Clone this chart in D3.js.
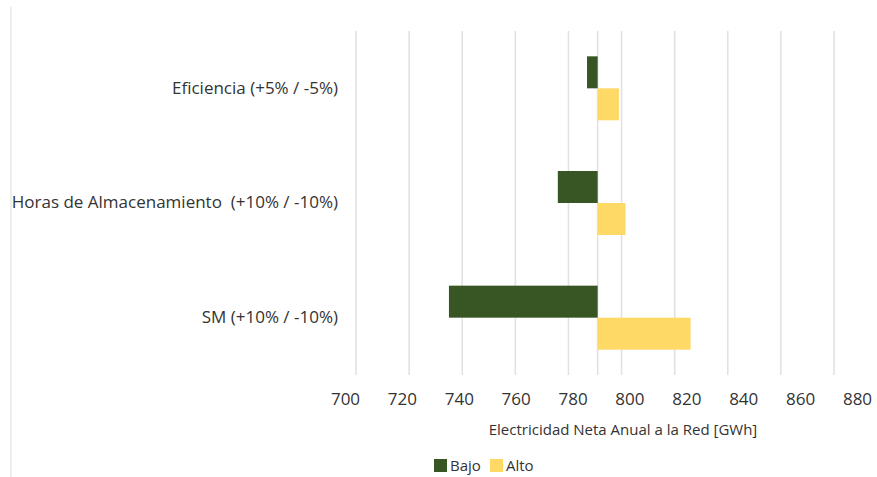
<!DOCTYPE html>
<html>
<head>
<meta charset="utf-8">
<script src="https://cdn.jsdelivr.net/npm/d3@7"></script>
<style>
  html, body { margin: 0; padding: 0; background: #fff; }
  svg { display: block; }
  text { font-family: "Open Sans", "DejaVu Sans", sans-serif; fill: #333; white-space: pre; }
</style>
</head>
<body>
<svg id="chart" width="877" height="477"></svg>
<script>
// Sensitivity of annual net electricity to the grid (tornado chart)
const categories = [
  "Eficiencia (+5% / -5%)",
  "Horas de Almacenamiento  (+10% / -10%)",
  "SM (+10% / -10%)"
];
const baseValue = 791;                 // base case, GWh
const bajoValues = [787, 776, 735];    // "Bajo" scenario, GWh
const altoValues = [799, 801.5, 826];  // "Alto" scenario, GWh
const tickValues = [700, 720, 740, 760, 780, 800, 820, 840, 860, 880];
const seriesNames = ["Bajo", "Alto"];
const seriesColors = ["#375623", "#FFD966"];
const axisTitle = "Electricidad Neta Anual a la Red [GWh]";

const svg = d3.select("#chart");

const plot = { left: 356, right: 834, top: 31, bottom: 375 };

const x = d3.scaleLinear().domain([700, 880]).range([plot.left, plot.right]);
// tick labels are laid out slightly wider than the gridlines
const xLabels = d3.scaleLinear().domain([700, 880]).range([345, 857]);

const y = d3.scaleBand().domain(categories).range([plot.top, plot.bottom]);
const barH = 32;

// frame line on the left
svg.append("line")
  .attr("x1", 11).attr("x2", 11).attr("y1", 7).attr("y2", 477)
  .attr("stroke", "#e8e8e8").attr("stroke-width", 1.5);

// vertical gridlines
svg.append("g")
  .selectAll("line")
  .data(tickValues)
  .join("line")
  .attr("x1", d => x(d)).attr("x2", d => x(d))
  .attr("y1", plot.top).attr("y2", plot.bottom)
  .attr("stroke", "#e2e2e2").attr("stroke-width", 1.6);

// category axis line at the base case
svg.append("line")
  .attr("x1", x(baseValue)).attr("x2", x(baseValue))
  .attr("y1", plot.top).attr("y2", plot.bottom)
  .attr("stroke", "#e2e2e2").attr("stroke-width", 1.6);

// bars
const rows = categories.map((c, i) => ({ c, bajo: bajoValues[i], alto: altoValues[i] }));

svg.append("g").selectAll("rect.bajo")
  .data(rows)
  .join("rect")
  .attr("class", "bajo")
  .attr("x", d => x(Math.min(d.bajo, baseValue)))
  .attr("width", d => Math.abs(x(d.bajo) - x(baseValue)))
  .attr("y", d => y(d.c) + y.bandwidth() / 2 - barH)
  .attr("height", barH)
  .attr("fill", seriesColors[0]);

svg.append("g").selectAll("rect.alto")
  .data(rows)
  .join("rect")
  .attr("class", "alto")
  .attr("x", d => x(Math.min(d.alto, baseValue)))
  .attr("width", d => Math.abs(x(d.alto) - x(baseValue)))
  .attr("y", d => y(d.c) + y.bandwidth() / 2)
  .attr("height", barH)
  .attr("fill", seriesColors[1]);

// category labels
const yAxis = svg.append("g")
  .attr("transform", `translate(${338},0)`)
  .call(d3.axisLeft(y).tickSize(0).tickPadding(0));
yAxis.select(".domain").remove();
yAxis.selectAll("text")
  .attr("font-size", 17)
  .attr("font-family", "Open Sans")
  .attr("fill", "#262626")
  .attr("xml:space", "preserve");

// value axis labels
const xAxis = svg.append("g")
  .attr("transform", `translate(0,${393})`)
  .call(d3.axisBottom(xLabels).tickValues(tickValues).tickSize(0).tickPadding(0));
xAxis.select(".domain").remove();
xAxis.selectAll("text")
  .attr("font-size", 17)
  .attr("font-family", "Open Sans")
  .attr("fill", "#333");

// axis title
svg.append("text")
  .attr("x", 623).attr("y", 435)
  .attr("text-anchor", "middle")
  .attr("font-size", 15)
  .attr("fill", "#404040")
  .text(axisTitle);

// legend
const legend = svg.append("g").attr("transform", "translate(434,459)");
const legendX = [0, 56];
seriesNames.forEach((name, i) => {
  const g = legend.append("g").attr("transform", `translate(${legendX[i]},0)`);
  g.append("rect").attr("width", 13).attr("height", 13).attr("fill", seriesColors[i]);
  g.append("text")
    .attr("x", 16).attr("y", 12)
    .attr("font-size", 15)
    .attr("fill", "#262626")
    .text(name);
});
</script>
</body>
</html>
